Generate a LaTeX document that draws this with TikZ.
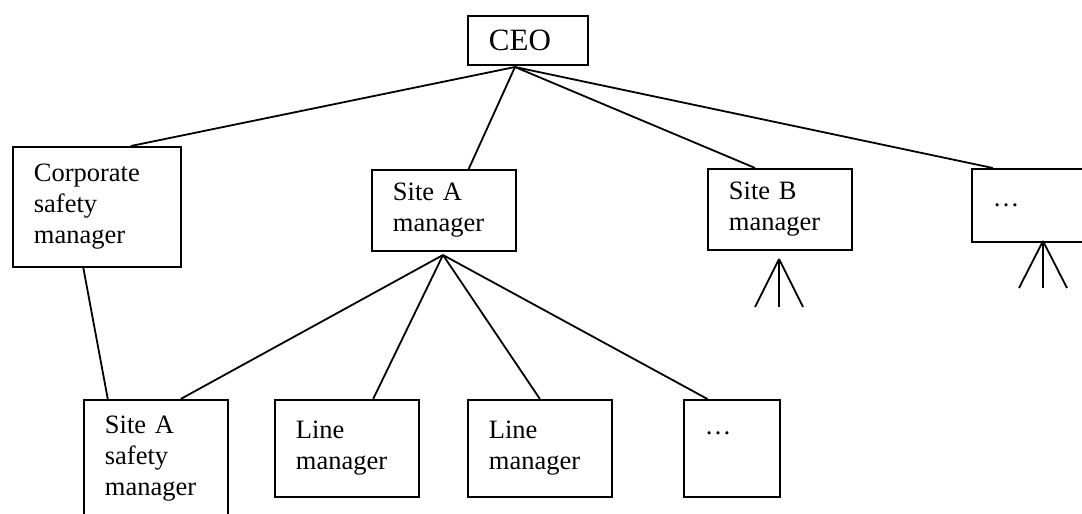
\documentclass[tikz,border=0pt]{standalone}
\usepackage{fontspec}
\setmainfont{Liberation Serif}
\usetikzlibrary{calc}
\begin{document}
\begin{tikzpicture}[x=0.5pt,y=-0.5pt,line width=0.9pt,
  box/.style={draw,anchor=north west,align=left,inner xsep=10.5pt,inner ysep=0pt,
    font=\fontsize{13.25pt}{15.5pt}\selectfont}]

\useasboundingbox (0,0) rectangle (1082,514);
\clip (0,0) rectangle (1082,514);

\node[box,text width=39pt,minimum height=24.5pt,font=\fontsize{15.5pt}{18pt}\selectfont] (ceo) at (467,15) {CEO};
\node[box,text width=63pt,minimum height=60pt] (corp) at (12,146) {Corporate\\safety\\manager};
\node[box,text width=51pt,minimum height=40.5pt] (sitea) at (371,169) {Site A\\manager};
\node[box,text width=51pt,minimum height=40.5pt] (siteb) at (707,168) {Site B\\manager};
\node[box,text width=51pt,minimum height=36.5pt] (more) at (971,168) {\ldots};

\node[box,text width=51pt,minimum height=59pt] (safety) at (83,399) {Site A\\safety\\manager};
\node[box,text width=51pt,minimum height=48.5pt] (linea) at (274,399) {Line\\manager};
\node[box,text width=51pt,minimum height=48.5pt] (lineb) at (467,399) {Line\\manager};
\node[box,text width=27pt,minimum height=48.5pt] (dots) at (683,399) {\ldots\\\mbox{}};

\coordinate (ceo root) at (515,67);
\coordinate (sitea root) at (443,255);
\coordinate (siteb root) at (779,259);
\coordinate (more root) at (1043,241);

\draw (ceo root) -- ($(corp.north west)!0.7!(corp.north east)$);
\draw (ceo root) -- ($(sitea.north west)!0.67!(sitea.north east)$);
\draw (ceo root) -- ($(siteb.north west)!0.33!(siteb.north east)$);
\draw (ceo root) -- ($(more.north west)!0.15!(more.north east)$);

\draw ($(corp.south west)!0.42!(corp.south east)$) -- ($(safety.north west)!0.17!(safety.north east)$);
\draw (sitea root) -- ($(safety.north west)!0.67!(safety.north east)$);
\draw (sitea root) -- ($(linea.north west)!0.68!(linea.north east)$);
\draw (sitea root) -- ($(lineb.north west)!0.5!(lineb.north east)$);
\draw (sitea root) -- ($(dots.north west)!0.25!(dots.north east)$);

\foreach \dx in {-24,0,24} {
  \draw (siteb root) -- ++(\dx,48);
  \draw (more root) -- ++(\dx,47);
}

\end{tikzpicture}
\end{document}
